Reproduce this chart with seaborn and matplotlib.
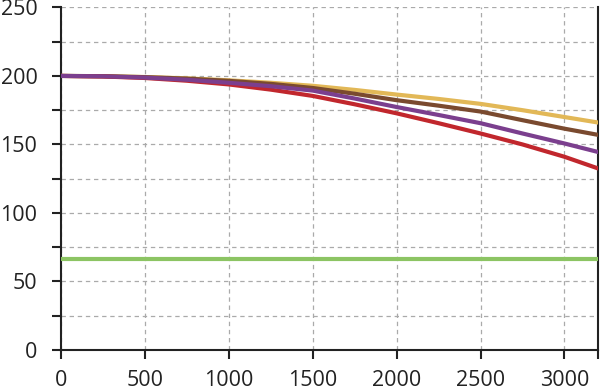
import numpy as np
import pandas as pd
import matplotlib
matplotlib.use("Agg")
import matplotlib.pyplot as plt
import seaborn as sns

# data
x_vals = [0, 250, 500, 750, 1000, 1250, 1500, 1750, 2000, 2250, 2500, 2750, 3000, 3200]
yellow = [200, 199.8, 199.2, 198.2, 196.8, 195.0, 192.8, 189.8, 186.4, 183.2, 179.6, 175.0, 170.0, 166.0]
brown = [200, 199.8, 199.1, 198.0, 196.4, 194.2, 191.2, 187.0, 182.3, 178.3, 174.0, 167.7, 161.5, 157.0]
red = [200, 199.6, 198.5, 196.5, 193.8, 190.0, 185.4, 179.3, 172.7, 165.5, 158.0, 150.0, 141.0, 132.5]
purple = [200, 199.7, 198.8, 197.2, 195.0, 192.5, 189.3, 183.5, 177.3, 171.5, 165.5, 158.0, 150.7, 144.5]
green = [66.5] * len(x_vals)

series = {"green": green, "yellow": yellow, "brown": brown, "red": red, "purple": purple}
colors = {"green": "#8cc463", "yellow": "#e2b857", "brown": "#7a4a2f",
          "red": "#c1272d", "purple": "#7b3f8e"}

frames = [pd.DataFrame({"x": x_vals, "y": v, "s": k}) for k, v in series.items()]
df = pd.concat(frames, ignore_index=True)

sns.set_style("white")
plt.rcParams['font.family'] = ['Open Sans', 'DejaVu Sans']

fig = plt.figure(figsize=(6, 3.9), dpi=100)
ax = fig.add_axes([0.1017, 0.1026, 0.8950, 0.8784])

sns.lineplot(data=df, x="x", y="y", hue="s", palette=colors, linewidth=3.0,
             legend=False, ax=ax, zorder=3)

ax.set_xlim(0, 3200)
ax.set_ylim(0, 250)
ax.set_xticks(range(0, 3001, 500))
ax.set_xticks([3200], minor=True)
ax.set_yticks(range(0, 251, 50))
ax.set_yticks(range(25, 250, 50), minor=True)

ax.grid(True, which="major", axis="x", color="#aaaaaa", linestyle=(0, (3.5, 3)), linewidth=0.9)
ax.grid(True, which="both", axis="y", color="#aaaaaa", linestyle=(0, (3.5, 3)), linewidth=0.9)
ax.set_axisbelow(True)

for side in ["left", "bottom", "right"]:
    ax.spines[side].set_color("#222222")
    ax.spines[side].set_linewidth(1.5)
ax.spines["top"].set_visible(False)

ax.tick_params(axis="both", which="both", direction="out", length=6.5, width=1.5,
               color="#222222", labelsize=15.5, labelcolor="#222222")
ax.tick_params(axis="y", which="both", left=True, right=False, pad=10.5)
ax.tick_params(axis="x", which="both", bottom=True, pad=8)
ax.set_xlabel("")
ax.set_ylabel("")

fig.savefig("out.png", dpi=100)
